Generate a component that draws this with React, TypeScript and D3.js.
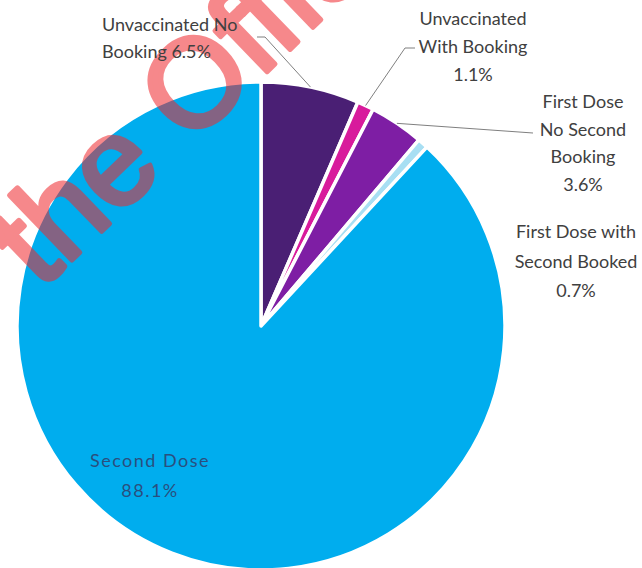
import React from "react";
import * as d3 from "d3";

const categories = [
  "Unvaccinated No Booking",
  "Unvaccinated With Booking",
  "First Dose No Second Booking",
  "First Dose with Second Booked",
  "Second Dose",
];
const values = [6.5, 1.1, 3.6, 0.7, 88.1];
const colors = ["#4a1f74", "#d81b9c", "#7e1ea4", "#a8dff3", "#00adee"];
const labelLines = [
  ["Unvaccinated No", "Booking 6.5%"],
  ["Unvaccinated", "With Booking", "1.1%"],
  ["First Dose", "No Second", "Booking", "3.6%"],
  ["First Dose with", "Second Booked", "0.7%"],
  ["Second Dose", "88.1%"],
];
const watermarkText = "the Official";

const W = 642;
const H = 568;
const cx = 261;
const cy = 326;
const R = 244;

const labelLayout = [
  { anchor: "start", x: 102, y: 31, lead: [[265, 37], [257, 37]] },
  { anchor: "middle", x: 473, y: 25, lead: [[405, 48], [415, 48]] },
  { anchor: "middle", x: 583, y: 108, lead: [[533, 133]] },
  { anchor: "middle", x: 576, y: 238, lead: null },
  { anchor: "middle", x: 150, y: 467, lead: null },
];
const lineHeights = [26.5, 28, 27.5, 29.5, 30];

export default function App() {
  const pie = d3.pie<number>().sort(null).value((d) => d)(values);
  const arc = d3.arc<d3.PieArcDatum<number>>().innerRadius(0).outerRadius(R);

  return (
    <svg
      width={W}
      height={H}
      style={{ position: "absolute", left: 0, top: 0, background: "#fff" }}
    >
      <rect width={W} height={H} fill="#ffffff" />
      <g transform={`translate(${cx},${cy})`}>
        {pie.map((p, i) => (
          <path
            key={categories[i]}
            d={arc(p) || ""}
            fill={colors[i]}
            stroke="#ffffff"
            strokeWidth={3.5}
            strokeLinejoin="round"
          />
        ))}
      </g>
      <g opacity={0.55}>
        <text
          x={41}
          y={290}
          transform="rotate(-44 41 290)"
          fontFamily="Liberation Sans, Arial, sans-serif"
          fontSize={124}
          fill="rgb(240,40,45)"
          stroke="rgb(240,40,45)"
          strokeWidth={5}
          strokeLinejoin="round"
        >
          {watermarkText}
        </text>
      </g>
      {pie.map((p, i) => {
        const L = labelLayout[i];
        if (!L.lead) return null;
        const a = (p.startAngle + p.endAngle) / 2;
        const sx = cx + R * Math.sin(a);
        const sy = cy - R * Math.cos(a);
        const pts = [[sx, sy], ...L.lead];
        const line = d3.line()(pts as [number, number][]);
        return (
          <path
            key={"lead" + i}
            d={line || ""}
            fill="none"
            stroke="#7f7f7f"
            strokeWidth={1}
          />
        );
      })}
      {labelLines.map((lines, i) => {
        const L = labelLayout[i];
        return (
          <text
            key={"lab" + i}
            textAnchor={L.anchor as any}
            fontFamily="Lato, 'Open Sans', sans-serif"
            fontSize={18}
            fill={i === 4 ? "#2a4f7e" : "#404040"}
            letterSpacing={i === 4 ? 1.5 : 0}
          >
            {lines.map((t, j) => (
              <tspan key={j} x={L.x} y={L.y + j * lineHeights[i]}>
                {t}
              </tspan>
            ))}
          </text>
        );
      })}
    </svg>
  );
}
